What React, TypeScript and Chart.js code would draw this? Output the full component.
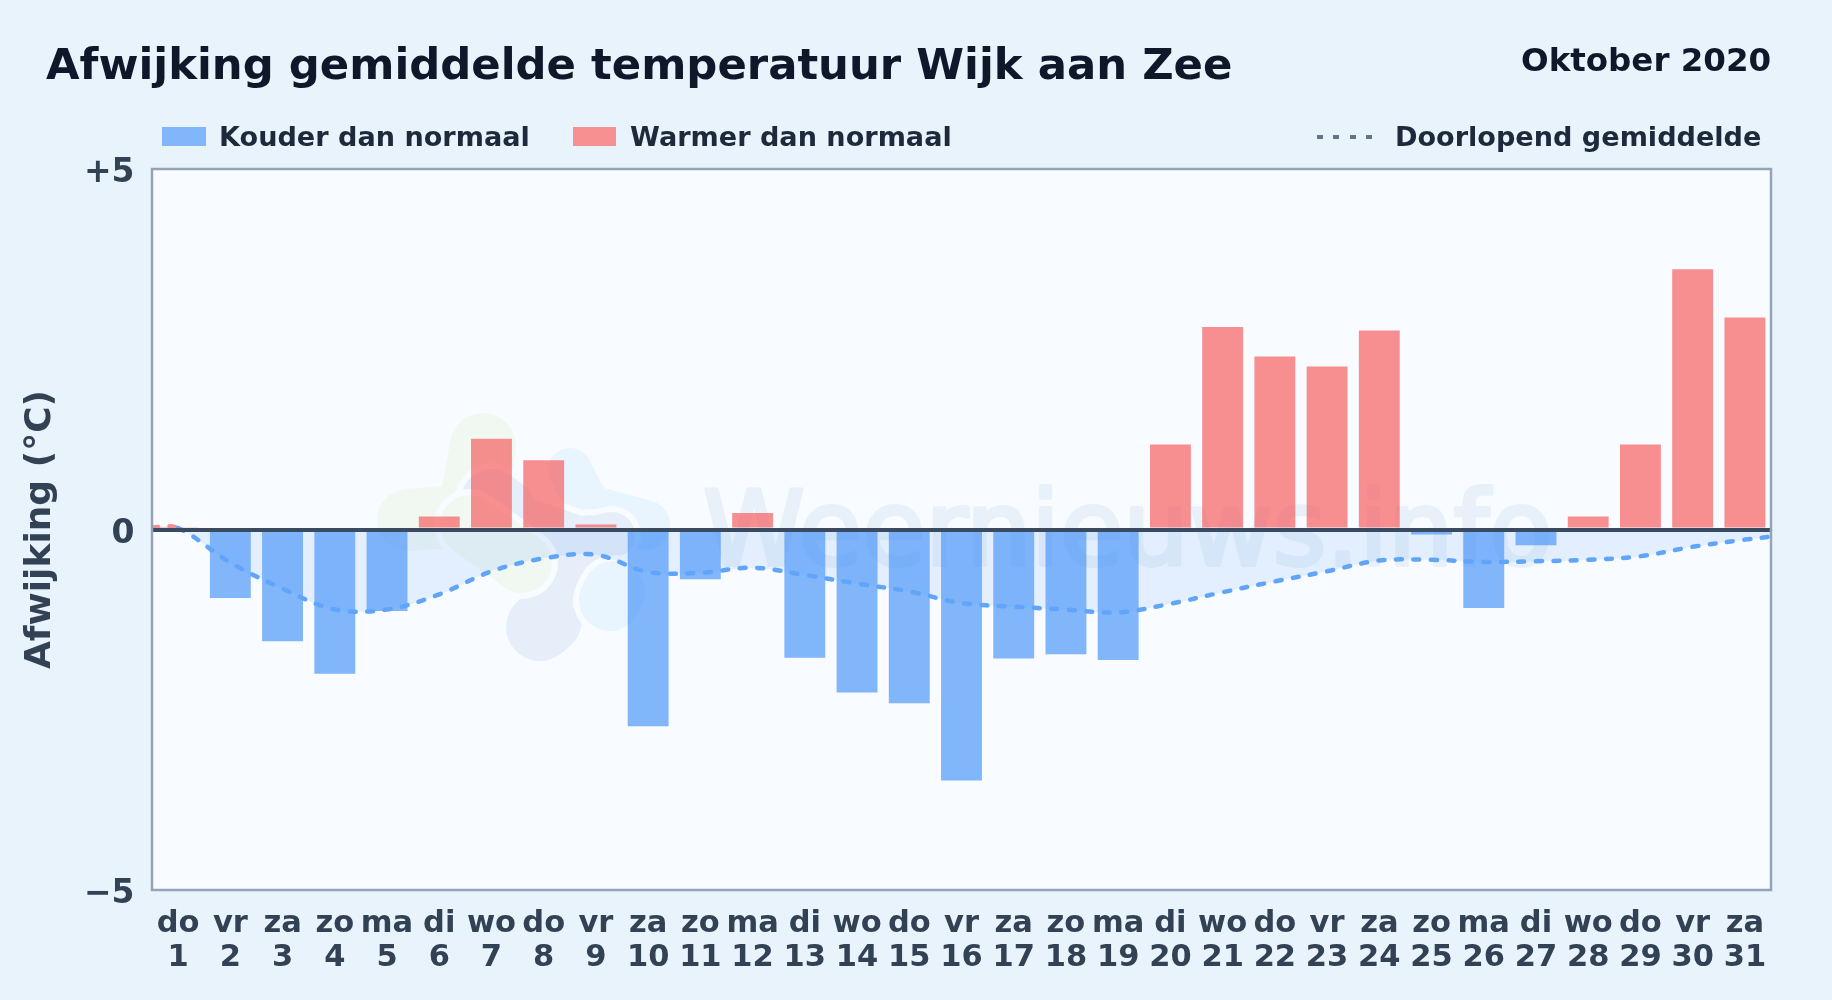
import React, { useEffect, useRef } from "react";
import { Chart, registerables } from "chart.js";

Chart.register(...registerables);

const weekdays = ["do","vr","za","zo","ma","di","wo","do","vr","za","zo","ma","di","wo","do","vr","za","zo","ma","di","wo","do","vr","za","zo","ma","di","wo","do","vr","za"];
const days = ["1","2","3","4","5","6","7","8","9","10","11","12","13","14","15","16","17","18","19","20","21","22","23","24","25","26","27","28","29","30","31"];
const colder = [null,-0.95,-1.55,-2.0,-1.13,null,null,null,null,-2.73,-0.69,null,-1.78,-2.26,-2.41,-3.48,-1.79,-1.73,-1.81,null,null,null,null,null,-0.07,-1.09,-0.22,null,null,null,null];
const warmer = [0.03,null,null,null,null,0.18,1.26,0.96,0.07,null,null,0.23,null,null,null,null,null,null,null,1.18,2.81,2.40,2.26,2.76,null,null,null,0.18,1.18,3.61,2.94];
const meanX = [0.5,1,2,3,4,5,6,7,8,9,10,11,12,13,14,15,16,17,18,19,20,21,22,23,24,25,26,27,28,29,30,31,31.5];
const meanY = [0.03,0.02,-0.46,-0.82,-1.11,-1.11,-0.90,-0.58,-0.40,-0.35,-0.59,-0.60,-0.53,-0.63,-0.75,-0.86,-1.02,-1.07,-1.11,-1.15,-1.03,-0.87,-0.72,-0.58,-0.43,-0.42,-0.45,-0.44,-0.42,-0.37,-0.24,-0.14,-0.10];
const yTicks = { "5": "+5", "0": "0", "-5": "\u22125" } as Record<string, string>;

const FONT = '"DejaVu Sans"';
const PLOT_BG = "#f8fbff";

const decor = {
  id: "decor",
  beforeDatasetsDraw(chart: any) {
    const { ctx, chartArea: a } = chart;
    ctx.save();
    ctx.fillStyle = PLOT_BG;
    ctx.fillRect(a.left, a.top, a.width, a.height);
    ctx.beginPath();
    ctx.rect(a.left, a.top, a.width, a.height);
    ctx.clip();
    ctx.lineCap = "round";
    ctx.lineJoin = "round";
    const blob = (strokes: any[], col: string) => {
      const each = (extra: number, style: string) => {
        for (const [pts, w] of strokes) {
          ctx.beginPath();
          ctx.moveTo(pts[0][0], pts[0][1]);
          for (let i = 1; i < pts.length; i++) ctx.lineTo(pts[i][0], pts[i][1]);
          ctx.strokeStyle = style;
          ctx.lineWidth = w + extra;
          ctx.stroke();
        }
      };
      each(12, PLOT_BG);
      each(0, col);
    };
    blob([
      [[[483, 446], [475, 490]], 66],
      [[[408, 520], [470, 515]], 62],
    ], "#f1f8f2");
    blob([
      [[[570, 470], [590, 510]], 44],
      [[[590, 510], [645, 525]], 50],
    ], "#e8f4fe");
    blob([
      [[[492, 500], [505, 510]], 62],
      [[[505, 510], [590, 540]], 40],
      [[[540, 627], [548, 620]], 68],
      [[[552, 600], [590, 545]], 60],
      [[[590, 540], [612, 535]], 46],
    ], "#e6eff9");
    blob([
      [[[470, 525], [522, 563]], 60],
    ], "#f1f8f2");
    blob([
      [[[610, 600], [614, 592]], 62],
    ], "#e8f4fe");
    ctx.fillStyle = "#e8f1fa";
    ctx.strokeStyle = "#e8f1fa";
    ctx.lineWidth = 4;
    ctx.font = `normal 103px ${FONT}`;
    ctx.textAlign = "left";
    ctx.textBaseline = "alphabetic";
    ctx.strokeText("Weernieuws.info", 703, 565);
    ctx.fillText("Weernieuws.info", 703, 565);
    ctx.restore();
  },
  afterDraw(chart: any) {
    const { ctx, chartArea: a } = chart;
    ctx.save();
    ctx.strokeStyle = "#94a3b8";
    ctx.lineWidth = 2.5;
    ctx.strokeRect(a.left, a.top, a.width, a.height);
    ctx.restore();
  },
};

const abs = (left: number, top: number, size: number, color: string, extra: any = {}) => ({
  position: "absolute" as const, left, top, fontFamily: FONT, fontWeight: 700, fontSize: size, lineHeight: `${size}px`, color, whiteSpace: "nowrap" as const, ...extra,
});

export default function App() {
  const ref = useRef<HTMLCanvasElement>(null);
  useEffect(() => {
    const chart = new Chart(ref.current!, {
      type: "bar",
      plugins: [decor],
      data: {
        labels: weekdays.map((w, i) => [w, days[i]]),
        datasets: [
          { label: "Kouder dan normaal", data: colder, backgroundColor: "rgba(56,139,248,0.62)", grouped: false, order: 1, barPercentage: 0.87, categoryPercentage: 0.9 },
          { label: "Warmer dan normaal", data: warmer, backgroundColor: "rgba(246,72,72,0.6)", grouped: false, order: 1, barPercentage: 0.87, categoryPercentage: 0.9 },
          {
            type: "line", label: "Doorlopend gemiddelde", xAxisID: "xLine", order: 0,
            data: meanX.map((x, i) => ({ x, y: meanY[i] })),
            borderColor: "#60a5fa", borderWidth: 4.5, borderDash: [6, 11.5], borderCapStyle: "round",
            pointRadius: 0, tension: 0.35,
            fill: { target: { value: 0 }, above: "rgba(239,68,68,0.12)", below: "rgba(96,165,250,0.14)" },
            segment: { borderColor: (c: any) => (c.p0.parsed.y > 0 && c.p1.parsed.y > 0 ? "#f58f90" : "#60a5fa") },
          } as any,
        ],
      },
      options: {
        animation: false, responsive: false, devicePixelRatio: 1,
        layout: { padding: { top: 169, right: 61, left: 0, bottom: 0 } },
        plugins: { legend: { display: false }, tooltip: { enabled: false } },
        scales: {
          x: {
            offset: true,
            grid: { display: false }, border: { display: false },
            ticks: { color: "#334155", font: { family: FONT, weight: "bold", size: 30.5, lineHeight: 1.12 }, maxRotation: 0, minRotation: 0, autoSkip: false, padding: 9 },
            afterFit: (s: any) => { s.height = 110; },
          },
          xLine: { type: "linear", min: 0.5, max: 31.5, display: false, offset: false },
          y: {
            min: -5, max: 5,
            grid: {
              z: 1, drawTicks: false,
              color: (c: any) => (c.tick.value === 0 ? "#3a4a61" : "transparent"),
              lineWidth: (c: any) => (c.tick.value === 0 ? 4 : 0),
            },
            border: { display: false },
            title: { display: true, text: "Afwijking (\u00b0C)", color: "#334155", font: { family: FONT, weight: "bold", size: 36 }, padding: { top: 19, bottom: 0 } },
            ticks: { stepSize: 5, color: "#334155", font: { family: FONT, weight: "bold", size: 33 }, padding: 17.5, labelOffset: 4.5, callback: (v: any) => yTicks[String(v)] },
            afterFit: (s: any) => { s.width = 152; },
          },
        },
      } as any,
    });
    return () => chart.destroy();
  }, []);

  return (
    <div style={{ position: "absolute", left: 0, top: 0, width: 1832, height: 1000, background: "#e8f3fc", overflow: "hidden", filter: "blur(0.45px)" }}>
      <canvas ref={ref} width={1832} height={1000} style={{ position: "absolute", left: 0, top: 0, width: 1832, height: 1000 }} />
      <div style={abs(46, 43, 43.35, "#0f172a")}>Afwijking gemiddelde temperatuur Wijk aan Zee</div>
      <div style={abs(1521, 43.5, 32.5, "#0f172a")}>Oktober 2020</div>
      <div style={{ position: "absolute", left: 162, top: 127, width: 44, height: 19, background: "#82b6fb" }} />
      <div style={abs(219, 122.5, 27.1, "#1e293b")}>Kouder dan normaal</div>
      <div style={{ position: "absolute", left: 573, top: 127, width: 43, height: 19, background: "#f79091" }} />
      <div style={abs(630, 122.5, 27.1, "#1e293b")}>Warmer dan normaal</div>
      <div style={{ position: "absolute", left: 1317, top: 135, width: 56, height: 4, background: "repeating-linear-gradient(90deg,#64748b 0,#64748b 6px,transparent 6px,transparent 16.4px)" }} />
      <div style={abs(1395, 122.5, 27.1, "#1e293b")}>Doorlopend gemiddelde</div>
    </div>
  );
}
